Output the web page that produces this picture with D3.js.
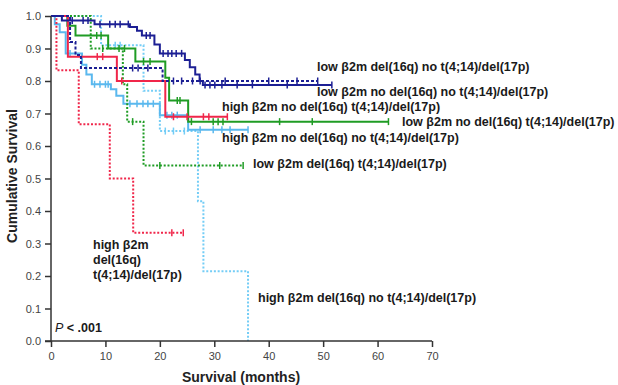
<!DOCTYPE html>
<html><head><meta charset="utf-8">
<script src="https://cdn.jsdelivr.net/npm/d3@7"></script>
<style>
html,body{margin:0;padding:0;background:#fff;}
svg{display:block;font-family:"Liberation Sans",Arial,sans-serif;}
</style></head>
<body><svg id="c" width="618" height="385"></svg>
<script>
// ---- data ----
const xTicks = [0, 10, 20, 30, 40, 50, 60, 70];
const yTicks = [0, 0.1, 0.2, 0.3, 0.4, 0.5, 0.6, 0.7, 0.8, 0.9, 1.0];

// low β2m no del(16q) no t(4;14)/del(17p)  (navy solid)
const lowNoDelNoT_t = [2, 8, 14.5, 15.8, 16.7, 19, 20, 24.6, 25.5, 26.5, 27.3, 27.9];
const lowNoDelNoT_s = [0.986, 0.975, 0.966, 0.955, 0.94, 0.912, 0.885, 0.865, 0.842, 0.82, 0.80, 0.788];
const lowNoDelNoT_end = 51.6;
const lowNoDelNoT_c = [3.9, 5.9, 6.8, 9, 10.8, 11.8, 12.7, 14.2, 17.5, 18.2, 20.6, 21.5, 22.2, 23, 24, 28.3, 29.2, 30.1, 31.4, 34.2, 37, 43.4, 51.6];

// low β2m del(16q) no t(4;14)/del(17p)  (navy dashed)
const lowDelNoT_t = [3.5, 4.5, 5.5, 20.5];
const lowDelNoT_s = [0.92, 0.88, 0.84, 0.80];
const lowDelNoT_end = 49;
const lowDelNoT_c = [15, 16, 17.8, 22.5, 24, 26, 27.4, 32, 40, 45.2, 49];

// high β2m no del(16q) t(4;14)/del(17p)  (red solid)
const highNoDelT_t = [3.1, 12.1, 21];
const highNoDelT_s = [0.875, 0.80, 0.69];
const highNoDelT_end = 32.4;
const highNoDelT_c = [8.5, 9.5, 13, 22.5, 25, 28, 29, 32.4];

// high β2m del(16q) t(4;14)/del(17p)  (red dotted)
const highDelT_t = [1, 5.1, 10.8, 15.1];
const highDelT_s = [0.833, 0.667, 0.5, 0.333];
const highDelT_end = 24.3;
const highDelT_c = [22.2, 24.3];

// low β2m no del(16q) t(4;14)/del(17p)  (green solid)
const lowNoDelT_t = [3, 4.5, 10.5, 15.5, 21, 21.7, 25.2];
const lowNoDelT_s = [0.97, 0.94, 0.90, 0.86, 0.81, 0.74, 0.675];
const lowNoDelT_end = 62;
const lowNoDelT_c = [8.4, 9.2, 12.5, 13.5, 17, 18.2, 23.2, 23.7, 25.8, 29.8, 30.7, 31.6, 42, 48, 62];

// low β2m del(16q) t(4;14)/del(17p)  (green dotted)
const lowDelT_t = [7.3, 13.2, 14, 17];
const lowDelT_s = [0.90, 0.79, 0.675, 0.54];
const lowDelT_end = 35.3;
const lowDelT_c = [9.5, 15, 20, 31, 35.3];

// high β2m no del(16q) no t(4;14)/del(17p)  (light blue solid)
const highNoDelNoT_t = [0.7, 1.6, 2.7, 5.7, 6.5, 7.5, 11, 12, 13.3, 20, 25.2];
const highNoDelNoT_s = [0.975, 0.95, 0.885, 0.85, 0.82, 0.79, 0.775, 0.755, 0.73, 0.695, 0.65];
const highNoDelNoT_end = 36.2;
const highNoDelNoT_c = [3.5, 8, 9, 10, 10.5, 14.5, 15.8, 16.9, 17.8, 18.8, 21.3, 22.2, 23.2, 27.4, 29.8, 31.4, 32.9, 36.2];

// high β2m del(16q) no t(4;14)/del(17p)  (light blue dotted)
const highDelNoT_t = [9.2, 17, 20, 27, 28, 36.2];
const highDelNoT_s = [0.91, 0.77, 0.646, 0.43, 0.215, 0];
const highDelNoT_end = 36.2;
const highDelNoT_c = [11.8, 12.7, 21, 22.5, 24.5];

const seriesLabels = [
  "low β2m del(16q) no t(4;14)/del(17p)",
  "low β2m no del(16q) no t(4;14)/del(17p)",
  "high β2m no del(16q) t(4;14)/del(17p)",
  "low β2m no del(16q) t(4;14)/del(17p)",
  "high β2m no del(16q) no t(4;14)/del(17p)",
  "low β2m del(16q) t(4;14)/del(17p)",
  "high β2m del(16q) no t(4;14)/del(17p)"
];
const redDottedLabel = ["high β2m", "del(16q)", "t(4;14)/del(17p)"];
const pLabel = "< .001";

// ---- drawing ----
const svg = d3.select("#c");
const x = d3.scaleLinear().domain([0, 70]).range([51, 432]);
const y = d3.scaleLinear().domain([0, 1]).range([341, 16]);

const NAVY = "#1c1f94", RED = "#f0264a", GREEN = "#1f9c24", LBLUE = "#5ab8ee", LBLUE2 = "#74cdf6";

const series = [
  {t: highDelNoT_t, s: highDelNoT_s, end: highDelNoT_end, c: highDelNoT_c, color: LBLUE2, dash: "2,1.8"},
  {t: highNoDelNoT_t, s: highNoDelNoT_s, end: highNoDelNoT_end, c: highNoDelNoT_c, color: LBLUE, dash: null},
  {t: lowDelT_t, s: lowDelT_s, end: lowDelT_end, c: lowDelT_c, color: GREEN, dash: "2,1.8"},
  {t: lowNoDelT_t, s: lowNoDelT_s, end: lowNoDelT_end, c: lowNoDelT_c, color: GREEN, dash: null},
  {t: highDelT_t, s: highDelT_s, end: highDelT_end, c: highDelT_c, color: RED, dash: "2,1.8"},
  {t: highNoDelT_t, s: highNoDelT_s, end: highNoDelT_end, c: highNoDelT_c, color: RED, dash: null},
  {t: lowDelNoT_t, s: lowDelNoT_s, end: lowDelNoT_end, c: lowDelNoT_c, color: NAVY, dash: "3,2"},
  {t: lowNoDelNoT_t, s: lowNoDelNoT_s, end: lowNoDelNoT_end, c: lowNoDelNoT_c, color: NAVY, dash: null}
];

function survAt(d, tt) {
  let v = 1;
  for (let i = 0; i < d.t.length; i++) if (d.t[i] <= tt) v = d.s[i];
  return v;
}

const line = d3.line().x(p => x(p[0])).y(p => y(p[1])).curve(d3.curveStepAfter);

series.forEach(d => {
  const pts = [[0, 1]];
  d.t.forEach((tt, i) => pts.push([tt, d.s[i]]));
  const last = d.s[d.s.length - 1];
  if (d.end > d.t[d.t.length - 1]) pts.push([d.end, last]);
  svg.append("path").attr("d", line(pts)).attr("fill", "none")
    .attr("stroke", d.color).attr("stroke-width", 2)
    .attr("stroke-dasharray", d.dash);
  svg.append("g").selectAll("line").data(d.c).join("line")
    .attr("x1", c => x(c)).attr("x2", c => x(c))
    .attr("y1", c => y(survAt(d, c)) - 3.5).attr("y2", c => y(survAt(d, c)) + 3.5)
    .attr("stroke", d.color).attr("stroke-width", 1.5);
});

// axes
const axColor = "#333";
const xAxis = svg.append("g").attr("transform", "translate(0,341)")
  .call(d3.axisBottom(x).tickValues(xTicks).tickSize(6).tickPadding(5).tickFormat(d3.format("d")));
const yAxis = svg.append("g").attr("transform", "translate(51,0)")
  .call(d3.axisLeft(y).tickValues(yTicks).tickSize(6).tickPadding(4).tickFormat(d3.format(".1f")));
[xAxis, yAxis].forEach(g => {
  g.select(".domain").attr("stroke", axColor).attr("stroke-width", 1.5);
  g.selectAll(".tick line").attr("stroke", axColor).attr("stroke-width", 1.5);
  g.selectAll(".tick text").attr("fill", "#444").attr("font-size", 11)
    .attr("font-family", "Liberation Sans, Arial, sans-serif");
});
xAxis.select(".domain").attr("d", "M45,0H432");
yAxis.select(".domain").attr("d", "M0,341V16");

// axis titles
svg.append("text").attr("transform", "translate(17,176) rotate(-90)")
  .attr("text-anchor", "middle").attr("font-weight", "bold").attr("font-size", 14)
  .attr("fill", "#222").text("Cumulative Survival");
svg.append("text").attr("x", 241).attr("y", 382)
  .attr("text-anchor", "middle").attr("font-weight", "bold").attr("font-size", 14)
  .attr("fill", "#222").text("Survival (months)");

// curve labels
const labelPos = [[317, 71], [317, 95.5], [222, 110.5], [402, 125.5], [222, 142], [253, 167.5], [258, 302]];
seriesLabels.forEach((txt, i) => {
  svg.append("text").attr("x", labelPos[i][0]).attr("y", labelPos[i][1])
    .attr("font-weight", "bold").attr("font-size", 12.5).attr("fill", "#1a1a1a").text(txt);
});
redDottedLabel.forEach((txt, i) => {
  svg.append("text").attr("x", 93).attr("y", 249 + i * 15)
    .attr("font-weight", "bold").attr("font-size", 12.5).attr("fill", "#1a1a1a").text(txt);
});
const p = svg.append("text").attr("x", 55).attr("y", 332).attr("font-size", 12.5).attr("fill", "#1a1a1a");
p.append("tspan").attr("font-style", "italic").text("P");
p.append("tspan").attr("font-weight", "bold").text(" " + pLabel);
</script></body></html>
